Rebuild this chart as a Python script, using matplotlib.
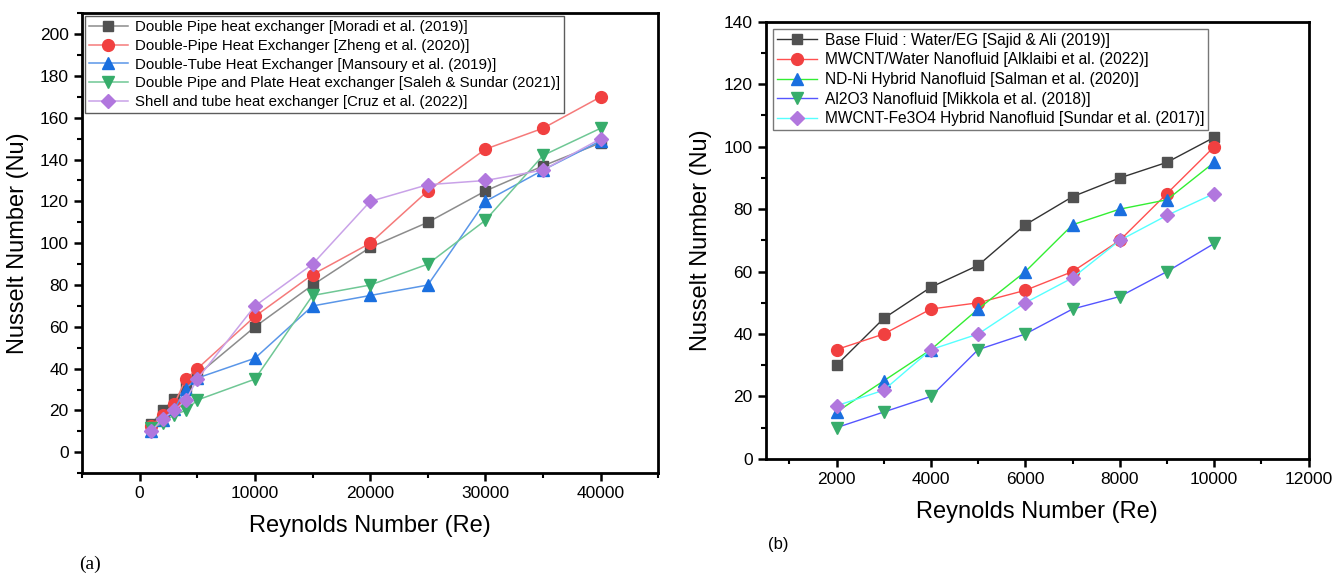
import matplotlib
matplotlib.use('Agg')
import matplotlib.pyplot as plt
from matplotlib.ticker import MultipleLocator

plt.rcParams['font.family'] = ['Liberation Sans', 'DejaVu Sans']

# (a) heat exchanger types
re_a = [1000, 2000, 3000, 4000, 5000, 10000, 15000, 20000, 25000, 30000, 35000, 40000]
moradi = [13.5, 20, 25.5, 31, 37, 60, 80, 98, 110, 125, 137, 148]
zheng = [12.5, 18, 23, 35, 40, 65, 85, 100, 125, 145, 155, 170]
mansoury = [10, 15.5, 20.5, 30.5, 35.5, 45, 70, 75, 80, 120, 135, 149]
saleh = [11.5, 14, 18, 20, 25, 35, 75, 80, 90, 111, 142, 155]
cruz = [10, 16, 20, 25, 35, 70, 90, 120, 128, 130, 135, 150]
labels_a = [
    'Double Pipe heat exchanger [Moradi et al. (2019)]',
    'Double-Pipe Heat Exchanger [Zheng et al. (2020)]',
    'Double-Tube Heat Exchanger [Mansoury et al. (2019)]',
    'Double Pipe and Plate Heat exchanger [Saleh & Sundar (2021)]',
    'Shell and tube heat exchanger [Cruz et al. (2022)]',
]

# (b) working fluids
re_b = [2000, 3000, 4000, 5000, 6000, 7000, 8000, 9000, 10000]
base_fluid = [30, 45, 55, 62, 75, 84, 90, 95, 103]
mwcnt_water = [35, 40, 48, 50, 54, 60, 70, 85, 100]
nd_ni = [15, 25, 35, 48, 60, 75, 80, 83, 95]
al2o3 = [10, 15, 20, 35, 40, 48, 52, 60, 69]
mwcnt_fe3o4 = [17, 22, 35, 40, 50, 58, 70, 78, 85]
labels_b = [
    'Base Fluid : Water/EG [Sajid & Ali (2019)]',
    'MWCNT/Water Nanofluid [Alklaibi et al. (2022)]',
    'ND-Ni Hybrid Nanofluid [Salman et al. (2020)]',
    'Al2O3 Nanofluid [Mikkola et al. (2018)]',
    'MWCNT-Fe3O4 Hybrid Nanofluid [Sundar et al. (2017)]',
]

marker_colors = ['#515151', '#F14040', '#1A6FDF', '#37AD6B', '#B177DE']
line_colors_a = ['#8C8C8C', '#F57A7A', '#5A96E8', '#6FC795', '#C9A2E8']
markers = ['s', 'o', '^', 'v', 'D']
msizes = [7.5, 8.5, 8.5, 8.5, 7.5]
line_colors_b = ['#333333', '#FF5050', '#33EE33', '#5555FF', '#55FFFF']


def style_axes(ax):
    for sp in ax.spines.values():
        sp.set_linewidth(2)
    ax.tick_params(which='major', direction='out', length=6, width=1.8,
                   labelsize=12.5, top=False, right=False)
    ax.tick_params(which='minor', direction='out', length=3.5, width=1.5,
                   top=False, right=False)
    ax.set_xlabel('Reynolds Number (Re)', fontsize=17, labelpad=10)
    ax.set_ylabel('Nusselt Number (Nu)', fontsize=17, labelpad=8)


fig = plt.figure(figsize=(13.34, 5.75), dpi=100)

ax1 = fig.add_axes([0.0615, 0.177, 0.432, 0.8])
for ys, c, lc, m, ms, lab in zip([moradi, zheng, mansoury, saleh, cruz],
                                 marker_colors, line_colors_a, markers, msizes, labels_a):
    ax1.plot(re_a, ys, color=lc, lw=1.1, marker=m, ms=ms, mfc=c, mec=c, label=lab)
ax1.set_xlim(-5000, 45000)
ax1.set_ylim(-10, 210)
ax1.xaxis.set_major_locator(MultipleLocator(10000))
ax1.xaxis.set_minor_locator(MultipleLocator(5000))
ax1.yaxis.set_major_locator(MultipleLocator(20))
ax1.yaxis.set_minor_locator(MultipleLocator(10))
style_axes(ax1)
leg1 = ax1.legend(loc='upper left', fontsize=10.8, frameon=True, fancybox=False,
                  borderaxespad=0.2, handlelength=2.6, labelspacing=0.32,
                  borderpad=0.25, handletextpad=0.5)
leg1.get_frame().set_edgecolor('#333333')
leg1.get_frame().set_linewidth(1)

ax2 = fig.add_axes([0.574, 0.202, 0.407, 0.76])
for ys, c, lc, m, ms, lab in zip([base_fluid, mwcnt_water, nd_ni, al2o3, mwcnt_fe3o4],
                                 marker_colors, line_colors_b, markers, msizes, labels_b):
    ax2.plot(re_b, ys, color=lc, lw=1, marker=m, ms=ms, mfc=c, mec=c, label=lab)
ax2.set_xlim(500, 12000)
ax2.set_ylim(0, 140)
ax2.xaxis.set_major_locator(MultipleLocator(2000))
ax2.xaxis.set_minor_locator(MultipleLocator(1000))
ax2.yaxis.set_major_locator(MultipleLocator(20))
ax2.yaxis.set_minor_locator(MultipleLocator(10))
style_axes(ax2)
leg2 = ax2.legend(loc='upper left', fontsize=11.2, frameon=True, fancybox=False,
                  borderaxespad=0.45, handlelength=2.6, labelspacing=0.3,
                  borderpad=0.25, handletextpad=0.5)
leg2.get_frame().set_edgecolor('#555555')
leg2.get_frame().set_linewidth(1)

fig.text(0.059, 0.01, '(a)', fontsize=14, family='Liberation Serif')
fig.text(0.576, 0.045, '(b)', fontsize=12)

fig.savefig('out.png', dpi=100)
